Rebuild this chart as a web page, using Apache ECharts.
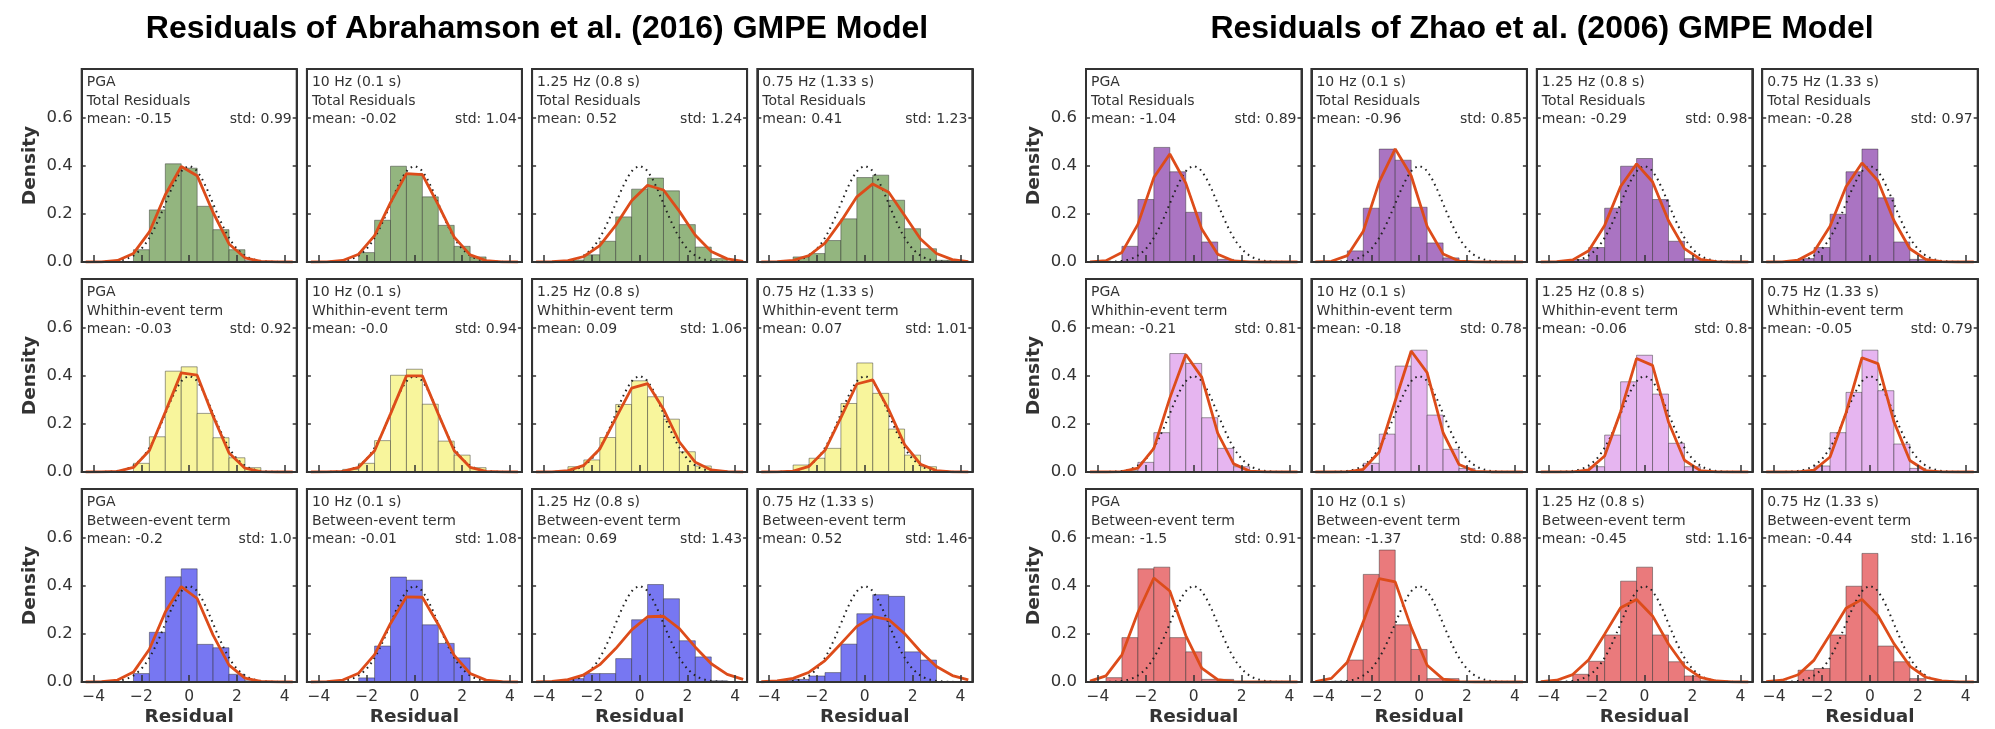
<!DOCTYPE html>
<html><head><meta charset="utf-8">
<script src="https://cdn.jsdelivr.net/npm/echarts@6/dist/echarts.min.js"></script>
<style>html,body{margin:0;padding:0;background:#fff}#c{width:1995px;height:729px}</style>
</head><body><div id="c"></div>
<script>
// ---------------- data ----------------
const BIN_CENTERS = [-4, -3.333, -2.667, -2, -1.333, -0.667, 0, 0.667, 1.333, 2, 2.667, 3.333, 4];
const BIN_WIDTH = 0.6667;
const FIT_X = [-4.333, -3.667, -3, -2.333, -1.667, -1, -0.333, 0.333, 1, 1.667, 2.333, 3, 3.667, 4.333];
const STD_NORMAL_X = [-4.5,-4.25,-4,-3.75,-3.5,-3.25,-3,-2.75,-2.5,-2.25,-2,-1.75,-1.5,-1.25,-1,-0.75,-0.5,-0.25,0,0.25,0.5,0.75,1,1.25,1.5,1.75,2,2.25,2.5,2.75,3,3.25,3.5,3.75,4,4.25,4.5];
const STD_NORMAL_Y = [0,0.0001,0.0001,0.0004,0.0009,0.002,0.0044,0.0091,0.0175,0.0317,0.054,0.0863,0.1295,0.1826,0.242,0.3011,0.3521,0.3867,0.3989,0.3867,0.3521,0.3011,0.242,0.1826,0.1295,0.0863,0.054,0.0317,0.0175,0.0091,0.0044,0.002,0.0009,0.0004,0.0001,0.0001,0];
const X_TICKS = [-4, -2, 0, 2, 4];

const PERIODS = ["PGA", "10 Hz (0.1 s)", "1.25 Hz (0.8 s)", "0.75 Hz (1.33 s)"];
const TERMS = ["Total Residuals", "Whithin-event term", "Between-event term"];
const TITLES = ["Residuals of Abrahamson et al. (2016) GMPE Model", "Residuals of Zhao et al. (2006) GMPE Model"];

// Abrahamson et al. (2016)
const abrTotalPGA_hist = [0,0,0,0.051,0.216,0.407,0.389,0.231,0.134,0.051,0.005,0,0];
const abrTotalPGA_fit = [0.0001,0.0007,0.0064,0.0355,0.1246,0.2786,0.3961,0.3578,0.2052,0.0748,0.0174,0.0026,0.0002,0];
const abrTotal10_hist = [0,0,0.003,0.039,0.173,0.397,0.367,0.27,0.152,0.065,0.021,0,0];
const abrTotal10_fit = [0.0001,0.0008,0.0063,0.0323,0.1095,0.2461,0.3666,0.3622,0.2371,0.103,0.0297,0.0057,0.0007,0.0001];
const abrTotal125_hist = [0,0,0.008,0.03,0.086,0.187,0.302,0.348,0.295,0.155,0.062,0.014,0];
const abrTotal125_fit = [0.0002,0.0011,0.0057,0.0228,0.0679,0.1518,0.2539,0.3181,0.2985,0.2098,0.1105,0.0435,0.0129,0.0028];
const abrTotal075_hist = [0,0,0.021,0.035,0.089,0.179,0.35,0.36,0.256,0.138,0.055,0.007,0];
const abrTotal075_fit = [0.0002,0.0013,0.007,0.027,0.0779,0.1682,0.2703,0.3237,0.2891,0.1924,0.0956,0.0353,0.0097,0.002];
const abrWithinPGA_hist = [0,0,0,0.036,0.146,0.418,0.436,0.243,0.142,0.059,0.018,0,0];
const abrWithinPGA_fit = [0,0.0002,0.0024,0.0189,0.0892,0.2488,0.4108,0.4011,0.2316,0.079,0.016,0.0019,0.0001,0];
const abrWithin10_hist = [0,0,0.011,0.036,0.13,0.401,0.426,0.281,0.128,0.07,0.018,0,0];
const abrWithin10_fit = [0,0.0002,0.0026,0.0195,0.0881,0.241,0.3985,0.3985,0.241,0.0881,0.0195,0.0026,0.0002,0];
const abrWithin125_hist = [0,0,0.022,0.05,0.143,0.28,0.378,0.312,0.219,0.084,0.025,0.005,0];
const abrWithin125_fit = [0.0001,0.0007,0.0054,0.0276,0.0953,0.2219,0.3476,0.3666,0.2604,0.1244,0.0401,0.0087,0.0013,0.0001];
const abrWithin075_hist = [0,0,0.029,0.057,0.098,0.284,0.452,0.326,0.178,0.07,0.022,0,0];
const abrWithin075_fit = [0,0.0004,0.0039,0.0233,0.09,0.2255,0.3648,0.3819,0.2585,0.1132,0.0321,0.0059,0.0007,0.0001];
const abrBetweenPGA_hist = [0,0,0,0.035,0.206,0.436,0.469,0.156,0.142,0.032,0.005,0,0];
const abrBetweenPGA_fit = [0.0001,0.001,0.0079,0.041,0.136,0.2897,0.3954,0.3461,0.1942,0.0698,0.0161,0.0024,0.0002,0];
const abrBetween10_hist = [0,0,0,0.017,0.149,0.435,0.422,0.237,0.16,0.1,0,0,0];
const abrBetween10_fit = [0.0001,0.0012,0.008,0.0366,0.1138,0.2426,0.3532,0.3512,0.2386,0.1106,0.0352,0.0076,0.0011,0.0001];
const abrBetween125_hist = [0,0.005,0.014,0.035,0.035,0.097,0.258,0.404,0.345,0.171,0.104,0.005,0];
const abrBetween125_fit = [0.0006,0.0027,0.01,0.0299,0.0718,0.1387,0.2161,0.2704,0.2725,0.221,0.1442,0.0757,0.0319,0.0109];
const abrBetween075_hist = [0,0.007,0.011,0.025,0.039,0.157,0.283,0.362,0.355,0.125,0.091,0,0];
const abrBetween075_fit = [0.0011,0.0045,0.0149,0.0405,0.089,0.1589,0.2304,0.271,0.2589,0.2006,0.1264,0.0645,0.0268,0.009];

// Zhao et al. (2006)
const zhaoTotalPGA_hist = [0,0,0.065,0.259,0.475,0.374,0.206,0.083,0.011,0,0,0,0];
const zhaoTotalPGA_fit = [0.0005,0.0057,0.0397,0.1559,0.3499,0.4478,0.3271,0.1364,0.0324,0.0044,0.0003,0,0,0];
const zhaoTotal10_hist = [0,0,0.046,0.223,0.468,0.422,0.227,0.079,0.017,0,0,0,0];
const zhaoTotal10_fit = [0.0002,0.0029,0.0263,0.1274,0.3321,0.4688,0.3574,0.1476,0.0329,0.004,0.0003,0,0,0];
const zhaoTotal125_hist = [0,0,0.01,0.06,0.223,0.397,0.429,0.259,0.086,0.014,0,0,0];
const zhaoTotal125_fit = [0.0001,0.0011,0.0089,0.0463,0.1517,0.3131,0.4067,0.3325,0.1712,0.0554,0.0113,0.0015,0.0001,0];
const zhaoTotal075_hist = [0,0,0.014,0.06,0.198,0.374,0.468,0.266,0.083,0.011,0,0,0];
const zhaoTotal075_fit = [0.0001,0.0009,0.0081,0.0438,0.148,0.3123,0.4107,0.3368,0.1721,0.0549,0.0109,0.0014,0.0001,0];
const zhaoWithinPGA_hist = [0,0,0.005,0.04,0.163,0.491,0.45,0.225,0.098,0.022,0,0,0];
const zhaoWithinPGA_fit = [0,0.0001,0.0013,0.0159,0.0977,0.3062,0.4869,0.3935,0.1613,0.0336,0.0036,0.0002,0,0];
const zhaoWithin10_hist = [0,0,0.005,0.036,0.157,0.439,0.505,0.236,0.094,0.015,0,0,0];
const zhaoWithin10_fit = [0,0,0.0007,0.0113,0.0831,0.2943,0.5017,0.4119,0.1627,0.031,0.0028,0.0001,0,0];
const zhaoWithin125_hist = [0,0,0,0.022,0.153,0.374,0.484,0.323,0.119,0.022,0,0,0];
const zhaoWithin125_fit = [0,0,0.0006,0.0088,0.0663,0.25,0.4706,0.4421,0.2073,0.0485,0.0057,0.0003,0,0];
const zhaoWithin075_hist = [0,0,0,0.025,0.163,0.33,0.505,0.337,0.116,0.015,0,0,0];
const zhaoWithin075_fit = [0,0,0.0005,0.0078,0.0622,0.2449,0.4736,0.449,0.2088,0.0476,0.0053,0.0003,0,0];
const zhaoBetweenPGA_hist = [0,0.018,0.184,0.469,0.476,0.184,0.125,0.011,0.011,0,0,0,0];
const zhaoBetweenPGA_fit = [0.0034,0.0257,0.1128,0.2882,0.4311,0.3771,0.1927,0.0577,0.0101,0.001,0.0001,0,0,0];
const zhaoBetween10_hist = [0,0.003,0.091,0.446,0.547,0.237,0.135,0.014,0.014,0,0,0,0];
const zhaoBetween10_fit = [0.0016,0.015,0.0816,0.2492,0.4282,0.415,0.2265,0.0697,0.0121,0.0012,0.0001,0,0,0];
const zhaoBetween125_hist = [0,0,0.032,0.086,0.195,0.418,0.476,0.195,0.084,0.025,0.005,0,0];
const zhaoBetween125_fit = [0.0013,0.0074,0.0307,0.0922,0.1984,0.3074,0.3422,0.2739,0.1575,0.0651,0.0193,0.0041,0.0006,0.0001];
const zhaoBetween075_hist = [0,0,0.049,0.056,0.195,0.397,0.533,0.149,0.084,0.014,0,0,0];
const zhaoBetween075_fit = [0.0012,0.0072,0.0301,0.0908,0.1965,0.3061,0.3425,0.2755,0.1592,0.0661,0.0197,0.0042,0.0007,0.0001];

// mean / std labels [row][col]
const ABR_STATS = [[["-0.15","0.99"],["-0.02","1.04"],["0.52","1.24"],["0.41","1.23"]],
                   [["-0.03","0.92"],["-0.0","0.94"],["0.09","1.06"],["0.07","1.01"]],
                   [["-0.2","1.0"],["-0.01","1.08"],["0.69","1.43"],["0.52","1.46"]]];
const ZHAO_STATS = [[["-1.04","0.89"],["-0.96","0.85"],["-0.29","0.98"],["-0.28","0.97"]],
                    [["-0.21","0.81"],["-0.18","0.78"],["-0.06","0.8"],["-0.05","0.79"]],
                    [["-1.5","0.91"],["-1.37","0.88"],["-0.45","1.16"],["-0.44","1.16"]]];

const ABR_HISTS = [[abrTotalPGA_hist,abrTotal10_hist,abrTotal125_hist,abrTotal075_hist],
                   [abrWithinPGA_hist,abrWithin10_hist,abrWithin125_hist,abrWithin075_hist],
                   [abrBetweenPGA_hist,abrBetween10_hist,abrBetween125_hist,abrBetween075_hist]];
const ABR_FITS = [[abrTotalPGA_fit,abrTotal10_fit,abrTotal125_fit,abrTotal075_fit],
                  [abrWithinPGA_fit,abrWithin10_fit,abrWithin125_fit,abrWithin075_fit],
                  [abrBetweenPGA_fit,abrBetween10_fit,abrBetween125_fit,abrBetween075_fit]];
const ZHAO_HISTS = [[zhaoTotalPGA_hist,zhaoTotal10_hist,zhaoTotal125_hist,zhaoTotal075_hist],
                    [zhaoWithinPGA_hist,zhaoWithin10_hist,zhaoWithin125_hist,zhaoWithin075_hist],
                    [zhaoBetweenPGA_hist,zhaoBetween10_hist,zhaoBetween125_hist,zhaoBetween075_hist]];
const ZHAO_FITS = [[zhaoTotalPGA_fit,zhaoTotal10_fit,zhaoTotal125_fit,zhaoTotal075_fit],
                   [zhaoWithinPGA_fit,zhaoWithin10_fit,zhaoWithin125_fit,zhaoWithin075_fit],
                   [zhaoBetweenPGA_fit,zhaoBetween10_fit,zhaoBetween125_fit,zhaoBetween075_fit]];

// ---------------- styling / layout ----------------
const FONT = "'DejaVu Sans', Verdana, sans-serif";
const TITLE_FONT = "'Liberation Sans', Arial, Helvetica, sans-serif";
const BAR_COLORS = [["#93b57f", "#f8f59c", "#7777f2"], ["#aa74c2", "#e6b5f0", "#ea7a7c"]];
const FIT_COLOR = "#dd4c1a";
const GROUP_LEFT = [81.7, 1086];
const COL_STEP = [225.2, 225.4];
const PANEL_W = [215, 215.5];
const ROW_TOP = 69, ROW_STEP = 210, PANEL_H = 193;
const TITLE_X = [537, 1542];

const groups = [
  {hists: ABR_HISTS, fits: ABR_FITS, stats: ABR_STATS},
  {hists: ZHAO_HISTS, fits: ZHAO_FITS, stats: ZHAO_STATS}
];

const grid = [], xAxis = [], yAxis = [], series = [], graphic = [];
const fmtX = v => (v < 0 ? '\u2212' + Math.abs(v) : String(v));

groups.forEach((grp, g) => {
  const gx = GROUP_LEFT[g], w = PANEL_W[g];
  graphic.push({type: 'text', x: TITLE_X[g], y: 29, z: 10,
    style: {text: TITLES[g], font: "bold 32px " + TITLE_FONT, fill: '#000',
            textAlign: 'center', align: 'center', textVerticalAlign: 'middle', verticalAlign: 'middle'}});
  for (let r = 0; r < 3; r++) {
    for (let c = 0; c < 4; c++) {
      const idx = grid.length;
      const left = gx + c * COL_STEP[g];
      const top = ROW_TOP + r * ROW_STEP;
      grid.push({left: left, top: top, width: w, height: PANEL_H, show: true,
                 borderColor: '#333', borderWidth: 2, backgroundColor: 'transparent'});
      xAxis.push({gridIndex: idx, type: 'value', min: -4.5, max: 4.5, z: 5,
        axisLine: {show: true, onZero: false, lineStyle: {color: '#333', width: 2}},
        axisTick: {show: true, inside: true, length: 7, customValues: X_TICKS, lineStyle: {color: '#333', width: 1.5}},
        axisLabel: {show: r === 2, customValues: X_TICKS, formatter: fmtX, fontSize: 15.5, color: '#333', margin: 7, fontFamily: FONT},
        splitLine: {show: false},
        name: r === 2 ? 'Residual' : '', nameLocation: 'middle', nameGap: 26,
        nameTextStyle: {fontSize: 18.5, fontWeight: 'bold', color: '#333', fontFamily: FONT}});
      yAxis.push({gridIndex: idx, type: 'value', min: 0, max: 0.8, interval: 0.2, position: 'left', z: 5,
        axisLine: {show: true, onZero: false, lineStyle: {color: '#333', width: 2}},
        axisTick: {show: true, inside: true, length: 4, lineStyle: {color: '#333', width: 1.5}},
        axisLabel: {show: c === 0, formatter: v => (v > 0.79 ? '' : v.toFixed(1)), fontSize: 16.5, color: '#333', margin: 9, fontFamily: FONT},
        splitLine: {show: false},
        name: c === 0 ? 'Density' : '', nameLocation: 'middle', nameGap: 42,
        nameTextStyle: {fontSize: 18.5, fontWeight: 'bold', color: '#333', fontFamily: FONT}});
      yAxis.push({gridIndex: idx, type: 'value', min: 0, max: 0.8, interval: 0.2, position: 'right', z: 5,
        axisLine: {show: true, onZero: false, lineStyle: {color: '#333', width: 2}},
        axisTick: {show: true, inside: true, length: 4, lineStyle: {color: '#333', width: 1.5}},
        axisLabel: {show: false}, splitLine: {show: false}});

      const hist = grp.hists[r][c], fit = grp.fits[r][c];
      series.push({type: 'custom', xAxisIndex: idx, yAxisIndex: idx * 2, silent: true, z: 2,
        encode: {x: 0, y: 1},
        data: BIN_CENTERS.map((x, i) => [x, hist[i]]).filter(d => d[1] > 0),
        renderItem: (params, api) => {
          const cx = api.value(0), h = api.value(1);
          const p0 = api.coord([cx - BIN_WIDTH / 2, h]);
          const p1 = api.coord([cx + BIN_WIDTH / 2, 0]);
          return {type: 'rect', shape: {x: p0[0], y: p0[1], width: p1[0] - p0[0], height: p1[1] - p0[1]},
                  style: {fill: BAR_COLORS[g][r], stroke: 'rgba(40,40,40,0.45)', lineWidth: 1}};
        }});
      series.push({type: 'line', xAxisIndex: idx, yAxisIndex: idx * 2, silent: true, z: 3,
        data: STD_NORMAL_X.map((x, i) => [x, STD_NORMAL_Y[i]]), showSymbol: false, symbol: 'none',
        lineStyle: {color: '#222', width: 2, type: [1.6, 4.2]}});
      series.push({type: 'line', xAxisIndex: idx, yAxisIndex: idx * 2, silent: true, z: 4,
        data: FIT_X.map((x, i) => [x, fit[i]]), showSymbol: false, symbol: 'none',
        lineStyle: {color: FIT_COLOR, width: 2.8}});

      const st = grp.stats[r][c];
      const ts = (t, x, y, al) => ({type: 'text', x: x, y: y, z: 10, silent: true,
        style: {text: t, font: "14px " + FONT, fill: '#333', textAlign: al, align: al,
                textVerticalAlign: 'middle', verticalAlign: 'middle'}});
      graphic.push(ts(PERIODS[c], left + 5, top + 13, 'left'));
      graphic.push(ts(TERMS[r], left + 5, top + 32, 'left'));
      graphic.push(ts('mean: ' + st[0], left + 5, top + 50.5, 'left'));
      graphic.push(ts('std: ' + st[1], left + w - 5, top + 50.5, 'right'));
    }
  }
});

const chart = echarts.init(document.getElementById('c'), null, {renderer: 'canvas'});
chart.setOption({animation: false, backgroundColor: '#fff', grid, xAxis, yAxis, series, graphic});
</script></body></html>
